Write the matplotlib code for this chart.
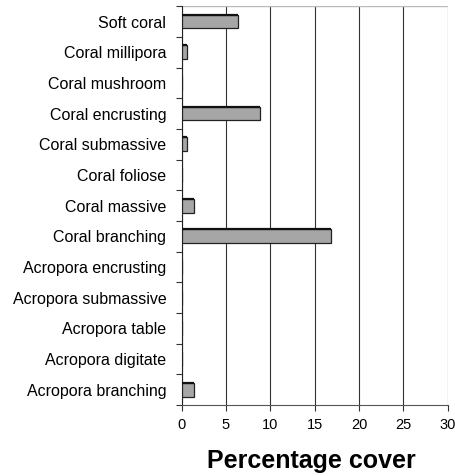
import matplotlib
matplotlib.use("Agg")
import matplotlib.pyplot as plt
import numpy as np

plt.rcParams["font.family"] = ["Liberation Sans", "DejaVu Sans"]

categories = [
    "Soft coral", "Coral millipora", "Coral mushroom", "Coral encrusting",
    "Coral submassive", "Coral foliose", "Coral massive", "Coral branching",
    "Acropora encrusting", "Acropora submassive", "Acropora table",
    "Acropora digitate", "Acropora branching",
]
cover = [6.4, 0.6, 0.0, 8.8, 0.6, 0.0, 1.4, 16.9, 0.0, 0.0, 0.0, 0.0, 1.4]
x_ticks = [0, 5, 10, 15, 20, 25, 30]

fig = plt.figure(figsize=(4.55, 4.76), dpi=100)
ax = fig.add_axes([0.399, 0.149, 0.585, 0.838])

y = np.arange(len(categories))
ax.barh(y, cover, height=0.45, color="#a6a6a6", edgecolor="#222222",
        linewidth=0.9, zorder=3)
# darker top edge of each bar (printed shadow look)
for yi, v in zip(y, cover):
    if v > 0:
        ax.plot([0, v], [yi - 0.225, yi - 0.225], color="#111111", lw=1.6,
                zorder=4, solid_capstyle="butt")

ax.set_xlim(0, 30)
ax.set_ylim(len(categories) - 0.5, -0.5)
ax.set_xticks(x_ticks)
ax.set_xticklabels([str(t) for t in x_ticks], fontsize=10.5)
ax.set_yticks(y)
ax.set_yticklabels(categories, fontsize=11.5)
ax.tick_params(axis="y", length=0, pad=11)
ax.set_yticks(np.arange(len(categories) + 1) - 0.5, minor=True)
ax.tick_params(axis="y", which="minor", length=4, width=0.8, color="#333333")
ax.tick_params(axis="x", length=4, width=0.8, color="#333333", pad=5)

ax.grid(axis="x", color="#333333", lw=0.8, zorder=1)
for side in ["top", "right"]:
    ax.spines[side].set_visible(False)
ax.spines["left"].set_color("#222222")
ax.spines["bottom"].set_color("#555555")
ax.axhline(-0.5, color="#bbbbbb", lw=1.0, zorder=2)

fig.text(0.685, 0.032, "Percentage cover", fontsize=18, fontweight="bold",
         ha="center", va="center")

fig.savefig("out.png", dpi=100)
